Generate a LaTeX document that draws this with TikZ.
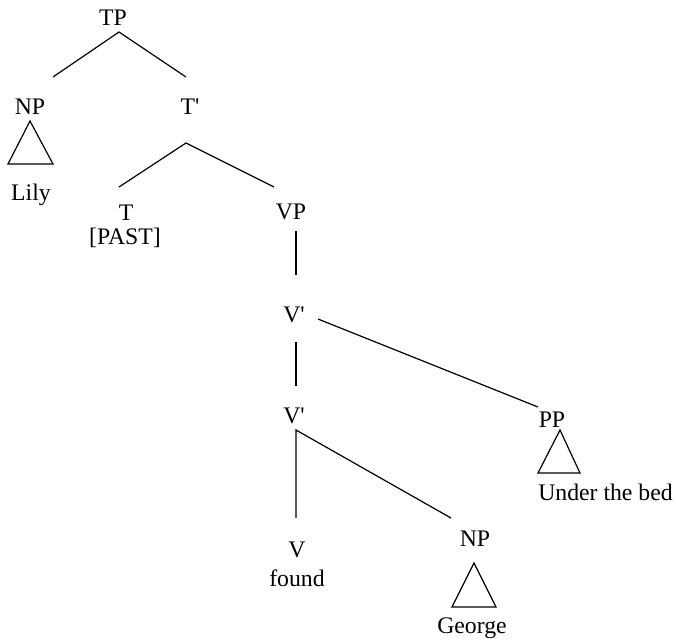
\documentclass[tikz,border=0pt]{standalone}
\usepackage{fontspec}
\setmainfont{Liberation Serif}
\begin{document}
\begin{tikzpicture}[x=0.75pt,y=-0.75pt,
  lbl/.style={anchor=base,inner sep=0pt,font=\fontsize{17.8}{20}\selectfont},
  edge/.style={line width=0.9pt},
  tri/.style={line width=0.9pt}]
\useasboundingbox (0,0) rectangle (676,640);
% labels
\node[lbl] (TP) at (113,25) {TP};
\node[lbl] (NP1) at (30,114) {NP};
\node[lbl] (Tbar) at (190,114) {T\textquotesingle};
\node[lbl] (Lily) at (31,200) {Lily};
\node[lbl] (T) at (126,220) {T};
\node[lbl] (PAST) at (125,244) {[PAST]};
\node[lbl] (VP) at (291,219) {VP};
\node[lbl] (Vbar1) at (294,322) {V\textquotesingle};
\node[lbl] (Vbar2) at (294,423) {V\textquotesingle};
\node[lbl] (PP) at (552,427) {PP};
\node[lbl] (Ubed) at (605.5,500) {Under the bed};
\node[lbl] (V) at (297,557) {V};
\node[lbl] (found) at (297,586) {found};
\node[lbl] (NP2) at (475,546) {NP};
\node[lbl] (George) at (472,633) {George};
% connector end points
\coordinate (TPs) at (119,32);
\coordinate (NP1n) at (53,77);
\coordinate (Tbarn) at (186,77);
\coordinate (Tbars) at (186,143);
\coordinate (Tn) at (119,187);
\coordinate (VPn) at (274,187);
\coordinate (VPs) at (296,231);
\coordinate (Vbar1n) at (296,275);
\coordinate (Vbar1s) at (296,342);
\coordinate (Vbar2n) at (296,386);
\coordinate (Vbar1e) at (318,319);
\coordinate (PPn) at (538,407);
\coordinate (Vbar2s) at (296,430);
\coordinate (Vn) at (296,518);
\coordinate (NP2n) at (451,518);
% connectors
\draw[edge] (NP1n) -- (TPs) -- (Tbarn);
\draw[edge] (Tn) -- (Tbars) -- (VPn);
\draw[edge] (VPs) -- (Vbar1n);
\draw[edge] (Vbar1s) -- (Vbar2n);
\draw[edge] (Vbar1e) -- (PPn);
\draw[edge] (Vn) -- (Vbar2s) -- (NP2n);
% triangles
\draw[tri] (30,121) -- (8,164) -- (53,164) -- cycle;
\draw[tri] (560,430) -- (538,473) -- (580,473) -- cycle;
\draw[tri] (474,563) -- (452,607) -- (496,607) -- cycle;
\end{tikzpicture}
\end{document}
